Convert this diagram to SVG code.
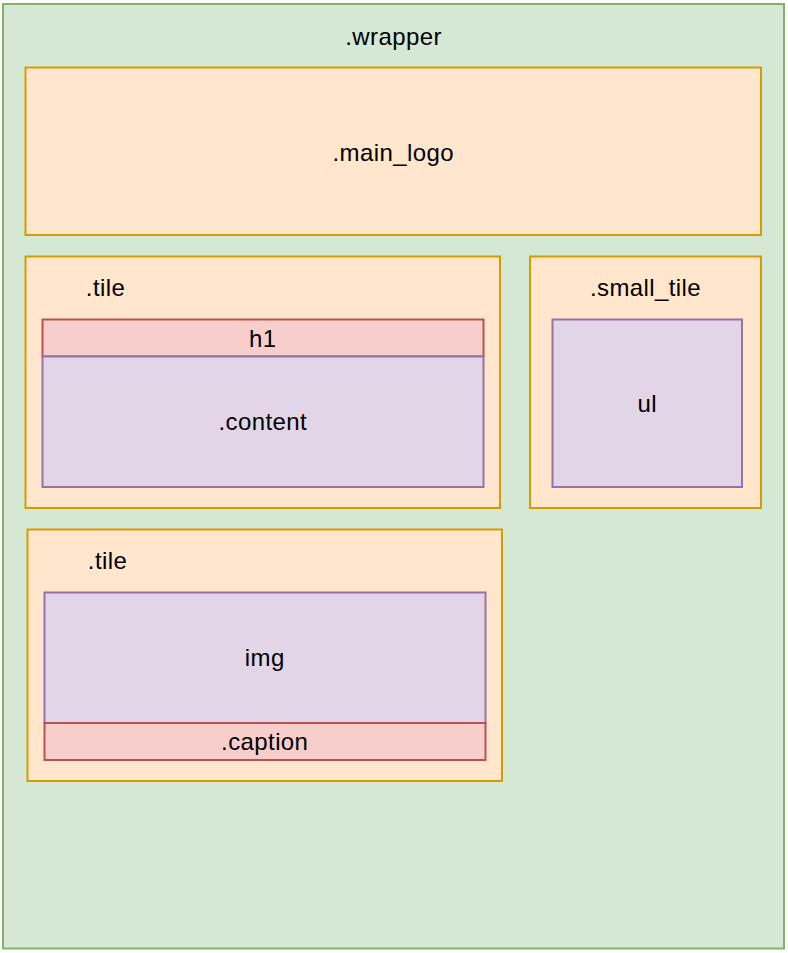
<svg xmlns="http://www.w3.org/2000/svg" width="788" height="953" viewBox="0 0 788 953">
<style>
.green{fill:#d5e8d4;stroke:#82b366;stroke-width:2}
.orange{fill:#ffe6cc;stroke:#d79b00;stroke-width:2}
.red{fill:#f8cecc;stroke:#b85450;stroke-width:2}
.purple{fill:#e1d5e7;stroke:#9673a6;stroke-width:2}
text{font-family:"Liberation Sans",Arial,Helvetica,sans-serif;font-size:24px;letter-spacing:0.4px;fill:#000;text-anchor:middle}
</style>
<rect x="0" y="0" width="788" height="953" fill="#ffffff"/>
<g id="wrapper">
<rect class="green" x="3" y="4" width="781" height="944.5"/>
<text x="393.5" y="44.5">.wrapper</text>
</g>
<g id="main_logo">
<rect class="orange" x="25.5" y="67.5" width="735.5" height="167.5"/>
<text x="393.25" y="160.5">.main_logo</text>
</g>
<g id="tile1">
<rect class="orange" x="25.5" y="256.5" width="474.5" height="251.5"/>
<text x="105.5" y="295.5">.tile</text>
</g>
<g id="h1">
<rect class="red" x="42.5" y="319.5" width="441" height="37"/>
<text x="262.75" y="346.5">h1</text>
</g>
<g id="content">
<rect class="purple" x="42.5" y="356.5" width="441" height="130.5"/>
<text x="262.75" y="430">.content</text>
</g>
<g id="small_tile">
<rect class="orange" x="530" y="256.5" width="231" height="251.5"/>
<text x="645.5" y="295.5">.small_tile</text>
</g>
<g id="ul">
<rect class="purple" x="552.5" y="319.5" width="189.5" height="167.5"/>
<text x="647.25" y="411.5">ul</text>
</g>
<g id="tile2">
<rect class="orange" x="27.5" y="529.5" width="474.5" height="251.5"/>
<text x="107.5" y="568.5">.tile</text>
</g>
<g id="img">
<rect class="purple" x="44.5" y="592.5" width="441" height="130.5"/>
<text x="264.75" y="666">img</text>
</g>
<g id="caption">
<rect class="red" x="44.5" y="723" width="441" height="37"/>
<text x="264.75" y="750">.caption</text>
</g>
<g id="connectors"></g>
</svg>
